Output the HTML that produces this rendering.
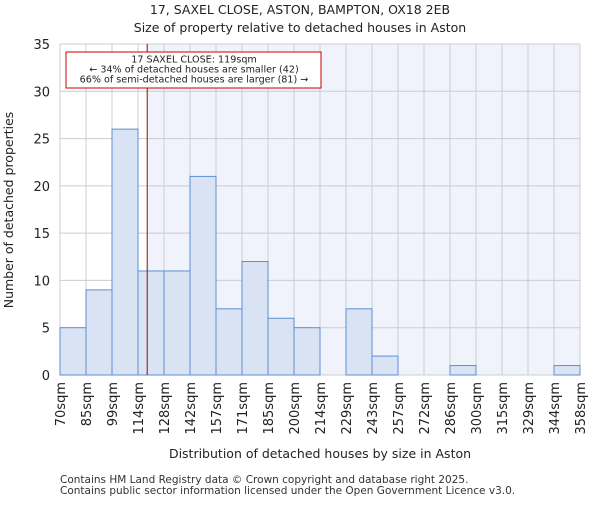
<!DOCTYPE html>
<html><head><meta charset="utf-8"><style>
body{margin:0;background:#fff;font-family:"Liberation Sans","DejaVu Sans",sans-serif;}
svg text{font-family:"DejaVu Sans","Liberation Sans",sans-serif;}
</style></head><body>
<svg id="chart" width="600" height="500" xmlns="http://www.w3.org/2000/svg">
<text x="300" y="14" text-anchor="middle" font-size="12.5" fill="#222">17, SAXEL CLOSE, ASTON, BAMPTON, OX18 2EB</text>
<text x="300" y="32" text-anchor="middle" font-size="12.5" fill="#222">Size of property relative to detached houses in Aston</text>
<g id="plot"></g>
<text x="320" y="458" text-anchor="middle" font-size="12.5" fill="#222">Distribution of detached houses by size in Aston</text>
<text transform="translate(13,210) rotate(-90)" text-anchor="middle" font-size="12.5" fill="#222">Number of detached properties</text>
<text x="60" y="483" font-size="10.5" fill="#333">Contains HM Land Registry data © Crown copyright and database right 2025.</text>
<text x="60" y="494" font-size="10.5" fill="#333">Contains public sector information licensed under the Open Government Licence v3.0.</text>
</svg>
<script>
const binEdges=[70,85,99,114,128,142,157,171,185,200,214,229,243,257,272,286,300,315,329,344,358];
const counts=[5,9,26,11,11,21,7,12,6,5,0,7,2,0,0,1,0,0,0,1];
const yTicks=[0,5,10,15,20,25,30,35];
const propertySize=118.3;
const NS="http://www.w3.org/2000/svg";
const L=60,R=580,T=44,B=375,xmin=70,xmax=358,ymax=35;
const n=counts.length;
const xb=i=>L+i*(R-L)/n;
const xv=v=>L+(v-xmin)/(xmax-xmin)*(R-L);
const y=v=>B-v/ymax*(B-T);
const g=document.getElementById('plot');
function mk(t,a){const e=document.createElementNS(NS,t);for(const k in a)e.setAttribute(k,a[k]);g.appendChild(e);return e;}
const px=xv(propertySize);
let e=mk('rect',{x:px,y:T,width:R-px,height:B-T,fill:'#f0f3fc'});


for(let i=0;i<=n;i++){e=mk('line',{x1:xb(i),x2:xb(i),y1:T,y2:B,stroke:'#ccc','stroke-width':1});

}
yTicks.forEach(t=>{e=mk('line',{x1:L,x2:R,y1:y(t),y2:y(t),stroke:'#ccc','stroke-width':1});


const tx=mk('text',{x:L-10,y:y(t)+5,'text-anchor':'end','font-size':13,fill:'#222'});tx.textContent=t;

});
counts.forEach((c,i)=>{if(c<=0)return;
const r=mk('rect',{x:xb(i),y:y(c),width:xb(i+1)-xb(i),height:B-y(c),fill:'#d9e3f3',stroke:'#5b8fd6','stroke-width':1});

});
binEdges.forEach((b,i)=>{const tx=mk('text',{transform:`translate(${xb(i)+5},382) rotate(-90)`,'text-anchor':'end','font-size':13,fill:'#222'});tx.textContent=b+'sqm';

});
e=mk('line',{x1:px,x2:px,y1:T,y2:B,stroke:'#a00','stroke-width':1});


e=mk('rect',{x:66,y:52,width:255,height:36,fill:'#fff',stroke:'#c00','stroke-width':1});


['17 SAXEL CLOSE: 119sqm','← 34% of detached houses are smaller (42)','66% of semi-detached houses are larger (81) →'].forEach((s,i)=>{
const tx=mk('text',{x:194,y:62.5+i*10,'text-anchor':'middle','font-size':9.6,fill:'#222'});tx.textContent=s;

});
</script>
</body></html>
